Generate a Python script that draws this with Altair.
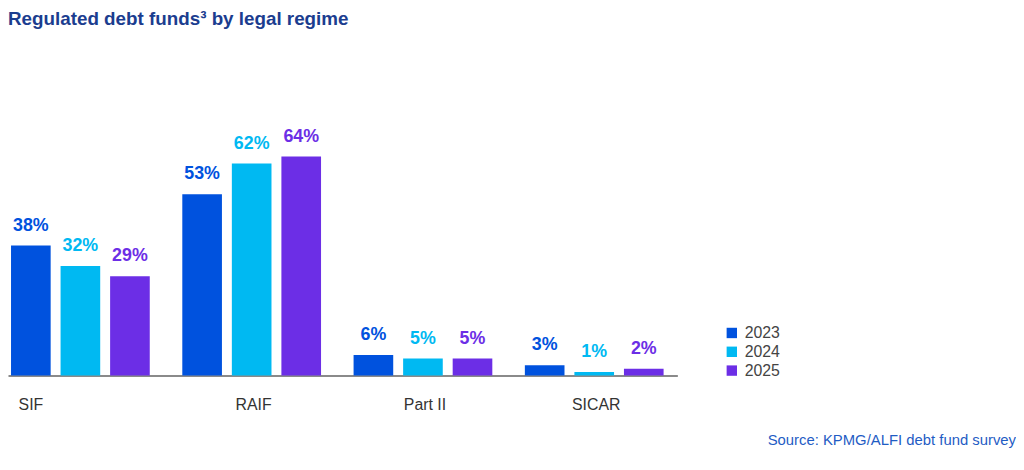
import altair as alt
import pandas as pd

categories = ["SIF", "RAIF", "Part II", "SICAR"]
years = ["2023", "2024", "2025"]
v2023 = [38, 53, 6, 3]
v2024 = [32, 62, 5, 1]
v2025 = [29, 64, 5, 2]
colors = ["#0052DE", "#00B9F2", "#6C2EE6"]
title_text = "Regulated debt funds\u00b3 by legal regime"
source_text = "Source: KPMG/ALFI debt fund survey"

rows = []
for yr, vals in zip(years, [v2023, v2024, v2025]):
    for c, v in zip(categories, vals):
        rows.append({"regime": c, "year": yr, "value": v, "label": f"{v}%"})
df = pd.DataFrame(rows)

FONT = "Liberation Sans"

x_enc = alt.X("regime:N", sort=categories, title=None,
              scale=alt.Scale(paddingInner=0.19, paddingOuter=0.049, align=0.18),
              axis=alt.Axis(labelAngle=0, labelFontSize=16, labelColor="#333333",
                            labelFont=FONT, labelPadding=21, ticks=False,
                            labelOffset=alt.ExprRef("datum.value === 'SIF' ? -50 : 2"),
                            domainColor="#8a8a8a", domainWidth=2))
xo_enc = alt.XOffset("year:N", sort=years,
                     scale=alt.Scale(paddingInner=0.2, paddingOuter=0))
y_enc = alt.Y("value:Q", scale=alt.Scale(domain=[0, 90]), axis=None)
color_enc = alt.Color("year:N", sort=years,
                      scale=alt.Scale(domain=years, range=colors),
                      legend=alt.Legend(title=None, orient="none", legendX=723, legendY=260,
                                        symbolType="square", symbolSize=110,
                                        symbolStrokeWidth=0, labelFontSize=16,
                                        labelFont=FONT, labelColor="#444444",
                                        rowPadding=3, labelOffset=5))

base = alt.Chart(df)
bars = base.mark_bar().encode(x=x_enc, xOffset=xo_enc, y=y_enc, color=color_enc)
labels = base.mark_text(fontSize=18, fontWeight="bold", font=FONT, dy=-15,
                        baseline="alphabetic").encode(
    x=alt.X("regime:N", sort=categories),
    xOffset=alt.XOffset("year:N", sort=years),
    y="value:Q",
    text="label:N",
    color=alt.Color("year:N", sort=years, legend=None),
)
source = alt.Chart(pd.DataFrame({"t": [source_text]})).mark_text(
    align="right", baseline="alphabetic", fontSize=15, font=FONT, color="#1F5CC4"
).encode(x=alt.value(1018), y=alt.value(381), text="t:N")

chart = alt.layer(bars, labels, source).properties(
    width=676, height=311, padding=0,
    title=alt.TitleParams(title_text, anchor="start", fontSize=19, font=FONT,
                          fontWeight="bold", color="#1B3D8F", offset=39),
).configure_view(stroke=None)

chart.save("out.html", embed_options={"renderer": "svg", "actions": False})
